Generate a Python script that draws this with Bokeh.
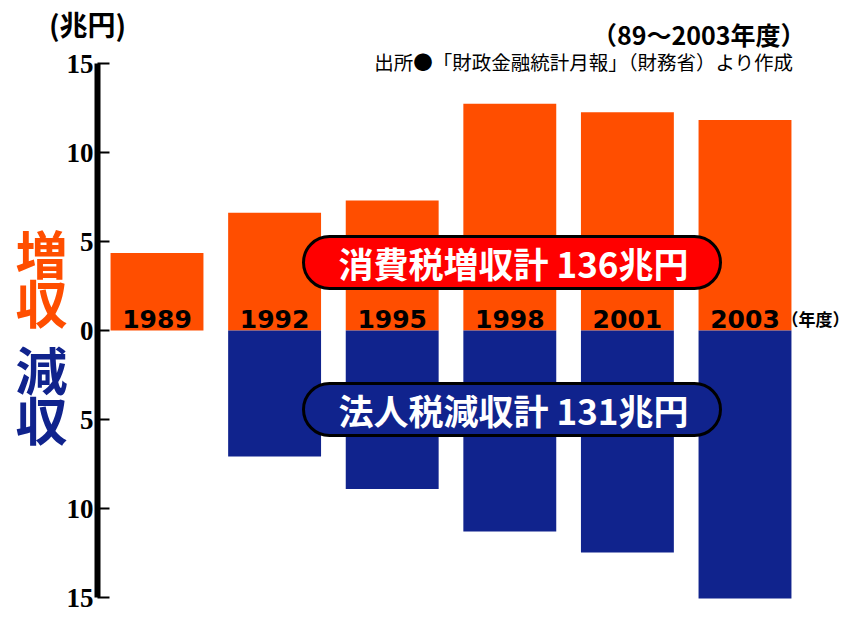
from bokeh.plotting import figure
from bokeh.models import Range1d, LinearAxis, FixedTicker, ColumnDataSource
from bokeh.core.properties import value
from bokeh.embed import file_html
from bokeh.resources import INLINE

# ---- data ----
years = ["1989", "1992", "1995", "1998", "2001", "2003"]
consumption_increase = [4.35, 6.61, 7.31, 12.74, 12.26, 11.83]   # 消費税増収 (兆円)
corporate_decrease = [0.0, 7.08, 8.91, 11.29, 12.47, 15.05]      # 法人税減収 (兆円)
tick_values = [-15, -10, -5, 0, 5, 10, 15]
tick_labels = ["15", "10", "5", "0", "5", "10", "15"]
unit_label = "(兆円)"
up_label = ["増", "収"]
down_label = ["減", "収"]
period_label = "（89〜2003年度）"
source_label = "出所●「財政金融統計月報」（財務省）より作成"
year_unit = "（年度）"
box_up_text = "消費税増収計 136兆円"
box_down_text = "法人税減収計 131兆円"

ORANGE = "#FF4E00"
BLUE = "#10238D"
RED = "#FF0000"
CJK = "Noto Sans CJK JP"

# ---- geometry (pixel mapping) ----
W, H = 849, 613
px_per_x = 117.6
x0_px = 156.5
px_per_y = 17.8
y0_px = 330.0


def dx(px):
    return (px - x0_px) / px_per_x


def dy(py):
    return (y0_px - py) / px_per_y


p = figure(width=W, height=H, x_range=Range1d(dx(0), dx(W)), y_range=Range1d(dy(H), dy(0)),
           toolbar_location=None, output_backend="svg", x_axis_type=None, y_axis_type=None,
           min_border=0, background_fill_color="white", border_fill_color="white")
p.outline_line_color = None

idx = list(range(len(years)))
src = ColumnDataSource(dict(
    x=idx,
    years=years,
    up=consumption_increase,
    down=[-v for v in corporate_decrease],
))

p.vbar(x="x", top="up", bottom=0, width=0.79, source=src, fill_color=ORANGE, line_color=None)
p.vbar(x="x", top=0, bottom="down", width=0.79, source=src, fill_color=BLUE, line_color=None)

# axis
yaxis = LinearAxis(fixed_location=dx(97), ticker=FixedTicker(ticks=tick_values),
                   bounds=(-15, 15))
yaxis.major_label_overrides = {v: l for v, l in zip(tick_values, tick_labels)}
yaxis.axis_line_width = 6
yaxis.axis_line_color = "black"
yaxis.major_tick_in = 12
yaxis.major_tick_out = 0
yaxis.major_tick_line_width = 2
yaxis.minor_tick_line_color = None
yaxis.major_label_text_font = "Liberation Serif"
yaxis.major_label_text_font_style = "bold"
yaxis.major_label_text_font_size = "27px"
yaxis.major_label_text_color = "black"
yaxis.major_label_standoff = 4
p.add_layout(yaxis, "left")

# year labels
p.text(x="x", y=dy(318), text="years", source=src, text_align="center", text_baseline="middle",
       text_font=value("DejaVu Sans"), text_font_style="bold", text_font_size="25px",
       text_color="black")
p.text(x=[dx(849)], y=[dy(318)], text=[year_unit], text_align="right", text_baseline="middle",
       text_font=value(CJK), text_font_style="bold", text_font_size="17px", text_color="black")

# unit label
p.text(x=[dx(87)], y=[dy(23)], text=[unit_label], text_align="center", text_baseline="middle",
       text_font=value(CJK), text_font_style="bold", text_font_size="28px", text_color="black")

# vertical side labels
p.text(x=[dx(41)] * 2, y=[dy(252), dy(301)], text=up_label, text_align="center",
       text_baseline="middle", text_font=value(CJK), text_font_style="bold",
       text_font_size="52px", text_color=ORANGE)
p.text(x=[dx(41)] * 2, y=[dy(368), dy(418)], text=down_label, text_align="center",
       text_baseline="middle", text_font=value(CJK), text_font_style="bold",
       text_font_size="52px", text_color=BLUE)

# header texts
p.text(x=[dx(805)], y=[dy(33)], text=[period_label], text_align="right", text_baseline="middle",
       text_font=value(CJK), text_font_style="bold", text_font_size="25px", text_color="black")
p.text(x=[dx(793)], y=[dy(61)], text=[source_label], text_align="right", text_baseline="middle",
       text_font=value(CJK), text_font_size="19.5px", text_color="black")

# rounded boxes
p.quad(left=[dx(303)], right=[dx(720)], top=[dy(236)], bottom=[dy(288)],
       fill_color=RED, line_color="black", line_width=3, border_radius=26)
p.quad(left=[dx(303)], right=[dx(720)], top=[dy(383)], bottom=[dy(435)],
       fill_color=BLUE, line_color="black", line_width=3, border_radius=26)
p.text(x=[dx(513)], y=[dy(262)], text=[box_up_text], text_align="center", text_baseline="middle",
       text_font=value(CJK), text_font_style="bold", text_font_size="35px", text_color="white")
p.text(x=[dx(513)], y=[dy(409)], text=[box_down_text], text_align="center", text_baseline="middle",
       text_font=value(CJK), text_font_style="bold", text_font_size="35px", text_color="white")

open("out.html", "w").write(file_html(p, INLINE))
